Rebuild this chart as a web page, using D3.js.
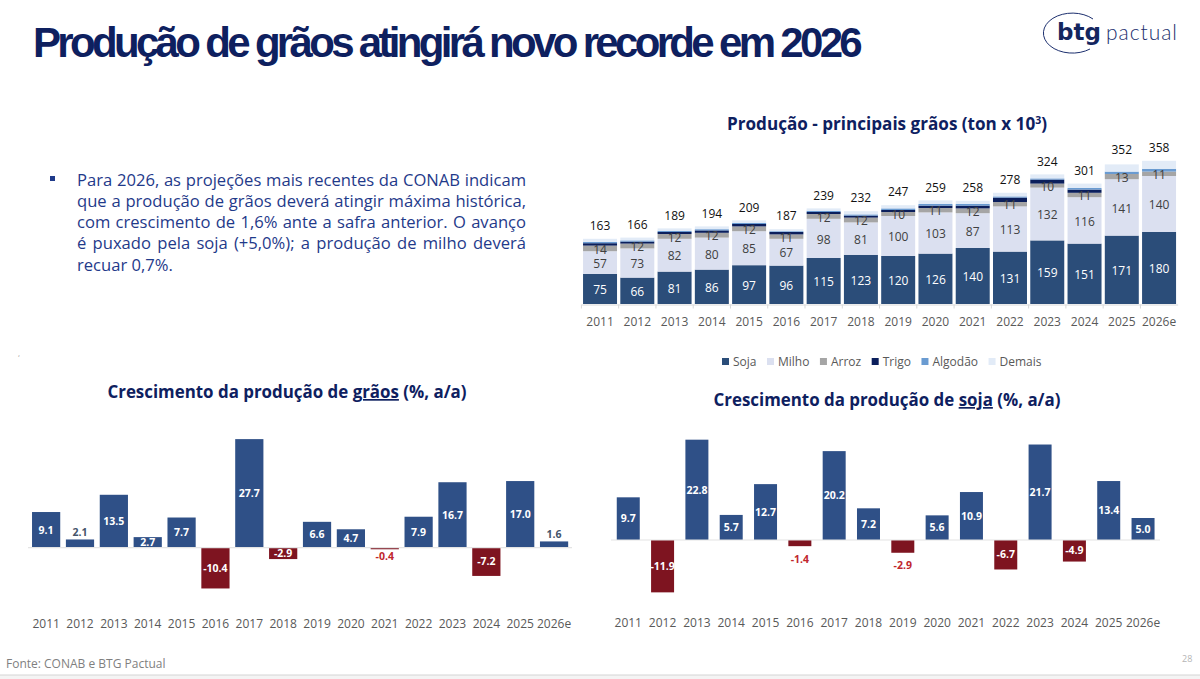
<!DOCTYPE html>
<html>
<head>
<meta charset="utf-8">
<script src="https://cdn.jsdelivr.net/npm/d3@7"></script>
<style>
  html, body { margin: 0; padding: 0; background: #fff; }
  svg { display: block; }
  text { font-family: "Open Sans", sans-serif; }
</style>
</head>
<body>
<div id="chart"></div>
<script>
var anos = ["2011","2012","2013","2014","2015","2016","2017","2018","2019","2020","2021","2022","2023","2024","2025","2026e"];

var soja    = [75,66,81,86,97,96,115,123,120,126,140,131,159,151,171,180];
var milho   = [57,73,82,80,85,67,98,81,100,103,87,113,132,116,141,140];
var arroz   = [14,12,12,12,12,11,12,12,10,11,12,11,10,11,13,11];
var trigo   = [6,5,5,6,6,6,5,5,5,6,7,11,10,8,0,0];
var algodao = [3,3,3,3,3,2,3,3,4,4,4,3,3,4,6,7];
var demais  = [8,7,6,7,6,5,6,8,8,9,8,9,10,11,18,20];
var totais  = [163,166,189,194,209,187,239,232,247,259,258,278,324,301,352,358];

var crescGraos = [9.1,2.1,13.5,2.7,7.7,-10.4,27.7,-2.9,6.6,4.7,-0.4,7.9,16.7,-7.2,17.0,1.6];
var crescSoja  = [9.7,-11.9,22.8,5.7,12.7,-1.4,20.2,7.2,-2.9,5.6,10.9,-6.7,21.7,-4.9,13.4,5.0];

// years whose label does not fit inside the bar
var foraGraos = ["2012","2021","2026e"];
var foraSoja  = ["2016","2019"];

var textoLinhas = [
  "Para 2026, as projeções mais recentes da CONAB indicam",
  "que a produção de grãos deverá atingir máxima histórica,",
  "com crescimento de 1,6% ante a safra anterior. O avanço",
  "é puxado pela soja (+5,0%); a produção de milho deverá",
  "recuar 0,7%."
];

var navy = "#0e205f";
var azul = "#2f5087";
var vermelho = "#7e1420";

var svg = d3.select("#chart").append("svg")
  .attr("width", 1200)
  .attr("height", 679);

svg.append("rect").attr("width", 1200).attr("height", 679).attr("fill", "#fff");

// header
svg.append("text")
  .attr("x", 33).attr("y", 57)
  .style("font-family", "'Liberation Sans', Arial, sans-serif")
  .style("font-weight", "bold")
  .style("font-size", "42px")
  .style("letter-spacing", "-3.68px")
  .attr("fill", navy)
  .text("Produção de grãos atingirá novo recorde em 2026");

// logo
var logo = svg.append("g");
logo.append("path")
  .attr("d", "M1093,19 A29,20 0 1 0 1090,49")
  .attr("fill", "none")
  .attr("stroke", "#1c2f6e")
  .attr("stroke-width", 1);
logo.append("text").attr("x", 1057).attr("y", 40)
  .style("font-family", "'DejaVu Sans', sans-serif")
  .style("font-weight", "bold").style("font-size", "23px")
  .attr("fill", "#14265f").text("btg");
logo.append("text").attr("x", 1106).attr("y", 40)
  .attr("textLength", 71)
  .style("font-family", "Lato, sans-serif")
  .style("font-weight", 300).style("font-size", "21px")
  .attr("fill", "#1c2f6e").text("pactual");

// bullet text, justified by hand
svg.append("rect").attr("x", 50).attr("y", 176).attr("width", 5).attr("height", 5).attr("fill", "#1f3a8a");

var linhaY = d3.scaleLinear().domain([0, 4]).range([185.5, 270.5]);
svg.selectAll(".linha").data(textoLinhas).enter().append("text")
  .attr("class", "linha")
  .attr("x", 77)
  .attr("y", function(d, i) { return linhaY(i); })
  .attr("fill", "#1f3a8a")
  .style("font-size", "16.6px")
  .text(function(d) { return d; })
  .each(function(d, i) {
    if (i == textoLinhas.length - 1) return;
    var sobra = 449 - this.getComputedTextLength();
    d3.select(this).style("word-spacing", (sobra / (d.split(" ").length - 1)) + "px");
  });

svg.append("text").attr("x", 18).attr("y", 356).attr("fill", "#999").style("font-size", "8px").text(",");

// titles
function titulo(x, y, antes, sublinhado, depois, size) {
  var t = svg.append("text")
    .attr("x", x).attr("y", y)
    .attr("text-anchor", "middle")
    .attr("fill", navy)
    .style("font-weight", 700)
    .style("font-size", size + "px");
  t.append("tspan").text(antes);
  if (sublinhado) t.append("tspan").style("text-decoration", "underline").text(sublinhado);
  t.append("tspan").text(depois);
  return t;
}

var t1 = titulo(887, 129.5, "Produção - principais grãos (ton x 10", null, "", 17.1);
t1.append("tspan").attr("dy", -6).style("font-size", "10.5px").text("3");
t1.append("tspan").attr("dy", 6).text(")");

titulo(287, 398, "Crescimento da produção de ", "grãos", " (%, a/a)", 16.9);
titulo(887, 406, "Crescimento da produção de ", "soja", " (%, a/a)", 16.9);

// top stacked chart
var chaves = ["soja","milho","arroz","trigo","algodao","demais"];
var nomes = ["Soja","Milho","Arroz","Trigo","Algodão","Demais"];
var cores = ["#2b4d79","#dbe0f0","#a5a5a5","#0b1f5c","#6a9bd1","#e2ebf7"];
var linhas = anos.map(function(a, i) {
  return { ano: a, soja: soja[i], milho: milho[i], arroz: arroz[i], trigo: trigo[i], algodao: algodao[i], demais: demais[i], total: totais[i] };
});

var x = d3.scaleBand().domain(anos).range([581.4, 1177.7]).paddingInner(0.088).paddingOuter(0.044);
var y = d3.scaleLinear().domain([0, 358]).range([304, 160.8]);
var cor = d3.scaleOrdinal().domain(chaves).range(cores);
var pilha = d3.stack().keys(chaves)(linhas);

var camadas = svg.selectAll(".camada").data(pilha).enter().append("g")
  .attr("class", "camada")
  .attr("fill", function(d) { return cor(d.key); });

camadas.selectAll("rect").data(function(d) { return d; }).enter().append("rect")
  .attr("x", function(d) { return x(d.data.ano); })
  .attr("y", function(d) { return y(d[1]); })
  .attr("width", x.bandwidth())
  .attr("height", function(d) { return y(d[0]) - y(d[1]); });

// segment labels for the three biggest series
pilha.slice(0, 3).forEach(function(s) {
  svg.selectAll(".rot-" + s.key).data(s).enter().append("text")
    .attr("class", "rot-" + s.key)
    .attr("x", function(d) { return x(d.data.ano) + x.bandwidth() / 2; })
    .attr("y", function(d) { return (y(d[0]) + y(d[1])) / 2 + 1; })
    .attr("dy", "0.35em")
    .attr("text-anchor", "middle")
    .attr("fill", s.key == "soja" ? "#fff" : "#404040")
    .style("font-size", "12px")
    .text(function(d) { return d.data[s.key]; });
});

svg.selectAll(".total").data(linhas).enter().append("text")
  .attr("class", "total")
  .attr("x", function(d) { return x(d.ano) + x.bandwidth() / 2; })
  .attr("y", function(d) { return y(d.total) - 13; })
  .attr("dy", "0.35em")
  .attr("text-anchor", "middle")
  .attr("fill", "#111")
  .style("font-size", "12px")
  .text(function(d) { return d.total; });

var eixoTopo = svg.append("g")
  .attr("transform", "translate(0,304.5)")
  .call(d3.axisBottom(x).tickSize(0).tickPadding(13));
eixoTopo.select(".domain").attr("stroke", "#d9d9d9");
eixoTopo.selectAll("text").attr("fill", "#595959").style("font-size", "12px").style("font-family", "'Open Sans', sans-serif");
eixoTopo.selectAll(".marca").data(anos).enter().append("line")
  .attr("class", "marca")
  .attr("x1", function(d) { return x(d) - x.step() * 0.044; })
  .attr("x2", function(d) { return x(d) - x.step() * 0.044; })
  .attr("y1", 0).attr("y2", 4)
  .attr("stroke", "#d9d9d9");

// legend, laid out from the text widths
var legenda = svg.append("g").attr("transform", "translate(722,362)");
var posX = 0;
nomes.forEach(function(n, i) {
  legenda.append("rect").attr("x", posX).attr("y", -4).attr("width", 7).attr("height", 7).attr("fill", cores[i]);
  var t = legenda.append("text").attr("x", posX + 11).attr("y", 0).attr("dy", "0.35em")
    .attr("fill", "#595959").style("font-size", "12px").text(n);
  posX += 11 + t.node().getComputedTextLength() + 10.5;
});

// growth bar charts
function barras(valores, fora, o) {
  var bx = d3.scaleBand().domain(anos).range(o.faixa).paddingInner(o.pad).paddingOuter(o.pad / 2);
  var by = d3.scaleLinear().domain([0, 10]).range([o.base, o.base - o.escala * 10]);
  var dados = anos.map(function(a, i) { return { ano: a, v: valores[i] }; });
  var g = svg.append("g");

  g.selectAll("rect").data(dados).enter().append("rect")
    .attr("x", function(d) { return bx(d.ano); })
    .attr("y", function(d) { return Math.min(by(d.v), by(0)); })
    .attr("width", bx.bandwidth())
    .attr("height", function(d) { return Math.abs(by(d.v) - by(0)); })
    .attr("fill", function(d) { return d.v < 0 ? vermelho : azul; });

  g.append("line")
    .attr("x1", o.eixo[0]).attr("x2", o.eixo[1])
    .attr("y1", by(0)).attr("y2", by(0))
    .attr("stroke", "#e4e4e4").attr("stroke-width", 1.2);

  g.selectAll(".rotulo").data(dados).enter().append("text")
    .attr("class", "rotulo")
    .attr("x", function(d) { return bx(d.ano) + bx.bandwidth() / 2; })
    .attr("y", function(d) {
      if (fora.indexOf(d.ano) >= 0) return by(d.v) + (d.v < 0 ? o.desvio : -o.desvio);
      return (by(d.v) + by(0)) / 2;
    })
    .attr("dy", "0.35em")
    .attr("text-anchor", "middle")
    .attr("fill", function(d) {
      if (fora.indexOf(d.ano) < 0) return "#fff";
      return d.v < 0 ? "#c0272d" : "#44546a";
    })
    .style("font-size", "10.5px")
    .style("font-weight", 700)
    .text(function(d) { return d.v.toFixed(1); });

  var eixo = g.append("g")
    .attr("transform", "translate(0," + o.eixoY + ")")
    .call(d3.axisBottom(bx).tickSize(0).tickPadding(0));
  eixo.select(".domain").remove();
  eixo.selectAll("text").attr("fill", "#595959").style("font-size", "12px").style("font-family", "'Open Sans', sans-serif");
}

barras(crescGraos, foraGraos, { faixa: [29.2, 571], pad: 0.167, base: 547.7, escala: 3.92, eixo: [28, 572], eixoY: 619.5, desvio: 7 });
barras(crescSoja, foraSoja, { faixa: [611.1, 1160.2], pad: 0.33, base: 540, escala: 4.4, eixo: [611, 1160], eixoY: 618.5, desvio: 13 });

// footer
svg.append("text").attr("x", 6).attr("y", 668).attr("fill", "#7f7f7f").style("font-size", "12px").text("Fonte: CONAB e BTG Pactual");
svg.append("text").attr("x", 1182).attr("y", 662).attr("fill", "#b5b5b5").style("font-size", "9px").text("28");
svg.append("rect").attr("x", 0).attr("y", 675).attr("width", 1200).attr("height", 4).attr("fill", "#f4f4f4");
svg.append("line").attr("x1", 0).attr("x2", 1200).attr("y1", 675).attr("y2", 675).attr("stroke", "#d4d4d4");
</script>
</body>
</html>
